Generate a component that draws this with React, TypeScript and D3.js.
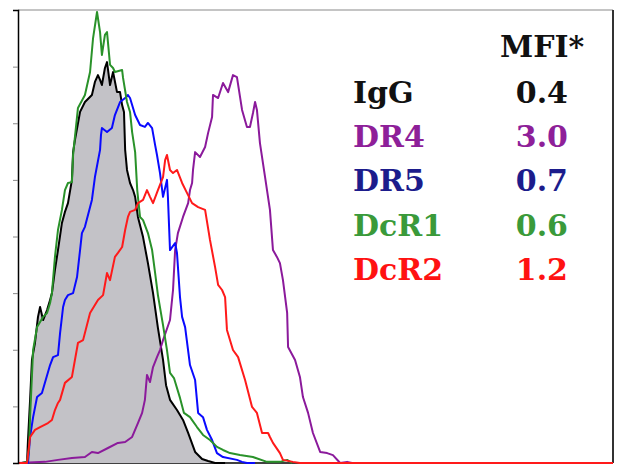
import React, { useRef, useEffect } from 'react';
import * as d3 from 'd3';

// histogram points: [fluorescence channel, cell count]
const igg: [number, number][] = [
  [1.7, 0], [3.9, 0.4], [4.3, 8.1], [5.2, 22.3], [6.0, 36.4], [7.3, 42.4], [8.6, 51.6], [9.5, 55.1],
  [10.8, 50.5], [12.5, 54.0], [13.8, 57.6], [14.6, 60.0], [15.9, 68.2], [17.2, 75.2], [18.9, 84.8],
  [20.2, 88.7], [21.5, 91.8], [23.2, 100.0], [23.7, 109.8], [24.5, 114.1], [26.7, 124.0], [28.8, 127.5],
  [31.8, 130.0], [33.1, 134.6], [34.4, 137.0], [35.3, 135.3], [36.1, 133.5], [37.4, 139.5], [38.3, 141.6],
  [39.6, 133.5], [40.9, 138.1], [42.6, 131.0], [43.9, 131.0], [44.8, 126.4], [45.6, 124.0], [46.1, 110.6],
  [46.9, 103.5], [48.2, 98.9], [49.5, 96.4], [50.4, 94.0], [51.6, 86.9], [53.8, 79.8], [55.9, 70.6],
  [58.1, 60.0], [60.2, 47.7], [62.4, 36.4], [63.7, 27.5], [65.4, 22.3], [68.4, 18.7], [71.0, 15.2],
  [73.2, 10.6], [76.2, 3.9], [79.2, 1.4], [81.8, 0.7], [84.8, 0], [89.1, 0]
];

const dr4: [number, number][] = [
  [0, 0], [11.6, 0.4], [17.2, 1.1], [23.2, 1.8], [28.8, 2.1], [31.8, 3.9], [34.4, 3.5], [38.7, 5.3],
  [43.0, 7.1], [46.1, 7.4], [49.1, 9.2], [51.6, 14.1], [53.4, 17.7], [54.6, 22.3], [55.5, 31.1],
  [56.8, 28.6], [58.1, 33.9], [59.8, 37.4], [61.1, 39.9], [62.4, 43.4], [65.4, 50.5], [66.7, 61.1],
  [67.6, 75.2], [68.8, 81.2], [71.0, 86.9], [73.2, 91.8], [74.0, 96.4], [74.9, 98.9], [75.3, 103.5],
  [76.2, 109.8], [78.3, 108.1], [80.5, 111.6], [81.8, 116.6], [83.5, 122.2], [83.9, 130.0], [86.1, 128.9],
  [88.2, 134.2], [90.4, 131.0], [92.5, 137.0], [94.2, 136.3], [96.4, 124.7], [98.5, 118.7], [99.8, 118.7],
  [101.1, 123.6], [102.0, 127.5], [102.8, 124.7], [104.1, 113.0], [106.3, 101.0], [108.4, 89.4],
  [109.7, 75.2], [111.4, 72.8], [112.7, 70.6], [114.0, 64.6], [115.8, 53.0], [116.2, 41.0], [119.2, 36.4],
  [121.3, 30.4], [122.6, 23.3], [124.8, 17.7], [126.9, 10.6], [130.0, 3.9], [133.0, 3.5], [135.5, 2.8],
  [138.6, 0], [141.6, 0.4], [143.7, 0]
];

const dr5: [number, number][] = [
  [1.7, 0], [4.3, 0], [5.2, 9.2], [6.5, 16.2], [8.2, 23.3], [10.3, 24.7], [13.8, 34.6], [15.1, 37.4],
  [17.2, 38.1], [18.1, 45.9], [19.4, 55.1], [20.2, 57.6], [21.5, 59.3], [23.7, 60.0], [25.4, 65.7],
  [26.7, 75.2], [27.5, 81.2], [28.8, 83.4], [31.8, 92.9], [33.1, 101.0], [35.3, 110.6], [35.7, 115.8],
  [36.1, 118.3], [38.3, 116.9], [40.4, 118.3], [41.7, 122.9], [43.9, 127.5], [46.1, 128.9], [47.3, 130.0],
  [48.2, 128.9], [50.4, 122.9], [52.5, 119.4], [54.6, 118.7], [55.9, 120.1], [57.7, 118.3], [59.0, 112.3],
  [59.8, 108.8], [61.1, 102.4], [62.4, 94.0], [64.1, 100.0], [64.5, 94.0], [65.4, 75.2], [67.6, 77.7],
  [68.4, 74.2], [69.7, 58.6], [70.6, 51.6], [71.9, 48.0], [74.0, 34.6], [76.2, 29.3], [77.5, 17.7],
  [79.6, 16.2], [81.3, 11.7], [83.5, 8.1], [85.6, 3.5], [88.2, 2.1], [94.2, 1.1], [96.4, 0.4],
  [98.5, 0], [102.0, 0]
];

const dcr1: [number, number][] = [
  [1.7, 0], [3.9, 0.4], [4.7, 4.6], [5.2, 16.2], [6.5, 39.9], [8.2, 48.0], [10.8, 51.6], [12.5, 53.0],
  [13.8, 56.5], [14.6, 60.0], [15.9, 72.8], [17.2, 82.3], [18.9, 89.4], [20.2, 96.4], [21.5, 98.9],
  [23.2, 99.2], [23.7, 108.8], [25.8, 125.4], [28.8, 130.0], [31.0, 138.1], [32.3, 150.1], [34.0, 159.3],
  [35.3, 152.2], [36.1, 144.1], [37.4, 151.2], [38.3, 152.2], [39.6, 140.6], [40.9, 139.5], [41.7, 138.1],
  [44.8, 138.8], [45.2, 136.0], [46.9, 127.5], [48.2, 124.0], [49.1, 116.9], [50.4, 109.8], [51.3, 96.4],
  [52.5, 86.9], [53.8, 85.8], [55.9, 81.2], [57.7, 75.2], [59.0, 67.1], [60.2, 59.3], [62.4, 48.7],
  [64.1, 39.9], [65.4, 31.8], [67.1, 30.0], [69.7, 23.0], [71.4, 17.7], [74.0, 16.2], [77.0, 12.7],
  [79.6, 9.9], [82.6, 8.1], [85.6, 5.7], [88.2, 4.6], [91.2, 3.5], [95.5, 2.8], [101.1, 2.1],
  [107.1, 0.4], [112.7, 0.4], [115.8, 1.1], [117.9, 0]
];

const dcr2: [number, number][] = [
  [0, 0], [3.9, 0], [5.2, 9.2], [7.3, 11.7], [9.5, 12.7], [12.9, 14.1], [14.6, 15.2], [15.9, 18.7],
  [17.2, 21.2], [18.1, 22.3], [20.2, 28.3], [23.2, 30.4], [25.8, 42.4], [28.0, 43.4], [31.0, 53.0],
  [34.4, 57.6], [36.6, 59.3], [38.3, 67.1], [39.6, 64.6], [41.7, 72.8], [43.0, 74.2], [44.8, 76.3],
  [46.1, 82.3], [47.3, 86.9], [48.2, 88.7], [50.4, 89.4], [51.6, 91.8], [53.8, 92.9], [55.5, 96.4],
  [56.8, 94.0], [58.1, 91.8], [60.2, 96.4], [62.4, 101.0], [63.3, 107.0], [64.1, 108.8], [65.4, 103.5],
  [66.7, 102.4], [68.4, 103.5], [70.6, 98.9], [72.7, 95.4], [74.9, 91.8], [77.5, 90.4], [80.5, 89.4],
  [82.6, 78.8], [84.8, 69.2], [86.1, 62.9], [87.8, 61.1], [89.1, 58.6], [89.9, 47.0], [92.5, 39.9],
  [94.7, 37.4], [97.7, 29.3], [100.7, 19.8], [102.8, 17.7], [105.0, 10.6], [107.6, 10.6], [108.4, 9.2],
  [109.7, 7.1], [112.7, 3.5], [114.0, 1.1], [118.3, 0.4], [121.3, 0], [256, 0]
];

const labels = ['IgG', 'DR4', 'DR5', 'DcR1', 'DcR2'];
const mfi = ['0.4', '3.0', '0.7', '0.6', '1.2'];
const lineColors = ['#000000', '#8b1a9b', '#0a0aff', '#2a922a', '#ff1a1a'];
const textColors = ['#111111', '#8e1f99', '#1c1c8c', '#3a9a3a', '#ff1212'];
const yTicks = [20, 40, 60, 80, 100, 120, 140];

const Histogram = () => {
  const svgRef = useRef<SVGSVGElement | null>(null);

  useEffect(() => {
    const svgWidth = 622;
    const svgHeight = 465;
    const margin = { top: 10, right: 9, bottom: 2, left: 18 };
    const width = svgWidth - margin.left - margin.right;
    const height = svgHeight - margin.top - margin.bottom;

    const svg = d3.select(svgRef.current)
      .attr('width', svgWidth)
      .attr('height', svgHeight);
    svg.selectAll('*').remove();

    const g = svg.append('g').attr('transform', `translate(${margin.left}, ${margin.top})`);

    const xScale = d3.scaleLinear().domain([0, 256]).range([0, width]);
    const yScale = d3.scaleLinear().domain([0, 160]).range([height, 0]);

    // frame
    g.append('line').attr('x1', 0).attr('x2', width).attr('y1', 0).attr('y2', 0)
      .attr('stroke', '#8a8a8a').attr('stroke-width', 1.2);
    g.append('line').attr('x1', width).attr('x2', width).attr('y1', 0).attr('y2', height)
      .attr('stroke', '#333').attr('stroke-width', 2);
    g.append('line').attr('x1', 0).attr('x2', width).attr('y1', height).attr('y2', height)
      .attr('stroke', '#000').attr('stroke-width', 1.5);

    const area = d3.area<[number, number]>()
      .x((d) => xScale(d[0]))
      .y0(yScale(0))
      .y1((d) => yScale(d[1]));

    const line = d3.line<[number, number]>()
      .x((d) => xScale(d[0]))
      .y((d) => yScale(d[1]));

    g.append('path')
      .datum(igg)
      .attr('fill', '#c3c2c7')
      .attr('d', area);

    const series = [igg, dr4, dr5, dcr1, dcr2];
    series.forEach((s, i) => {
      g.append('path')
        .datum(s)
        .attr('fill', 'none')
        .attr('stroke', lineColors[i])
        .attr('stroke-width', 2)
        .attr('stroke-linejoin', 'round')
        .attr('d', line);
    });

    const yAxis = g.append('g')
      .call(d3.axisLeft(yScale).tickValues(yTicks).tickSize(5).tickFormat(() => ''));
    yAxis.select('.domain').attr('stroke', '#000').attr('stroke-width', 1.5);
    yAxis.selectAll('.tick line').attr('stroke', '#888');

    // MFI legend
    const font = '"DejaVu Serif", serif';
    svg.append('text')
      .attr('x', 500).attr('y', 57)
      .attr('font-family', font).attr('font-weight', 'bold').attr('font-size', 30)
      .attr('fill', '#111')
      .text('MFI*');

    labels.forEach((lab, i) => {
      const yy = 103 + i * 44.2;
      svg.append('text')
        .attr('x', 353).attr('y', yy)
        .attr('font-family', font).attr('font-weight', 'bold').attr('font-size', 30)
        .attr('fill', textColors[i])
        .text(lab);
      svg.append('text')
        .attr('x', 568).attr('y', yy)
        .attr('text-anchor', 'end')
        .attr('font-family', font).attr('font-weight', 'bold').attr('font-size', 30)
        .attr('fill', textColors[i])
        .text(mfi[i]);
    });
  }, []);

  return (
    <div style={{ position: 'absolute', left: 0, top: 0 }}>
      <svg ref={svgRef} style={{ display: 'block' }} />
    </div>
  );
};

export default function App() {
  return <Histogram />;
}
